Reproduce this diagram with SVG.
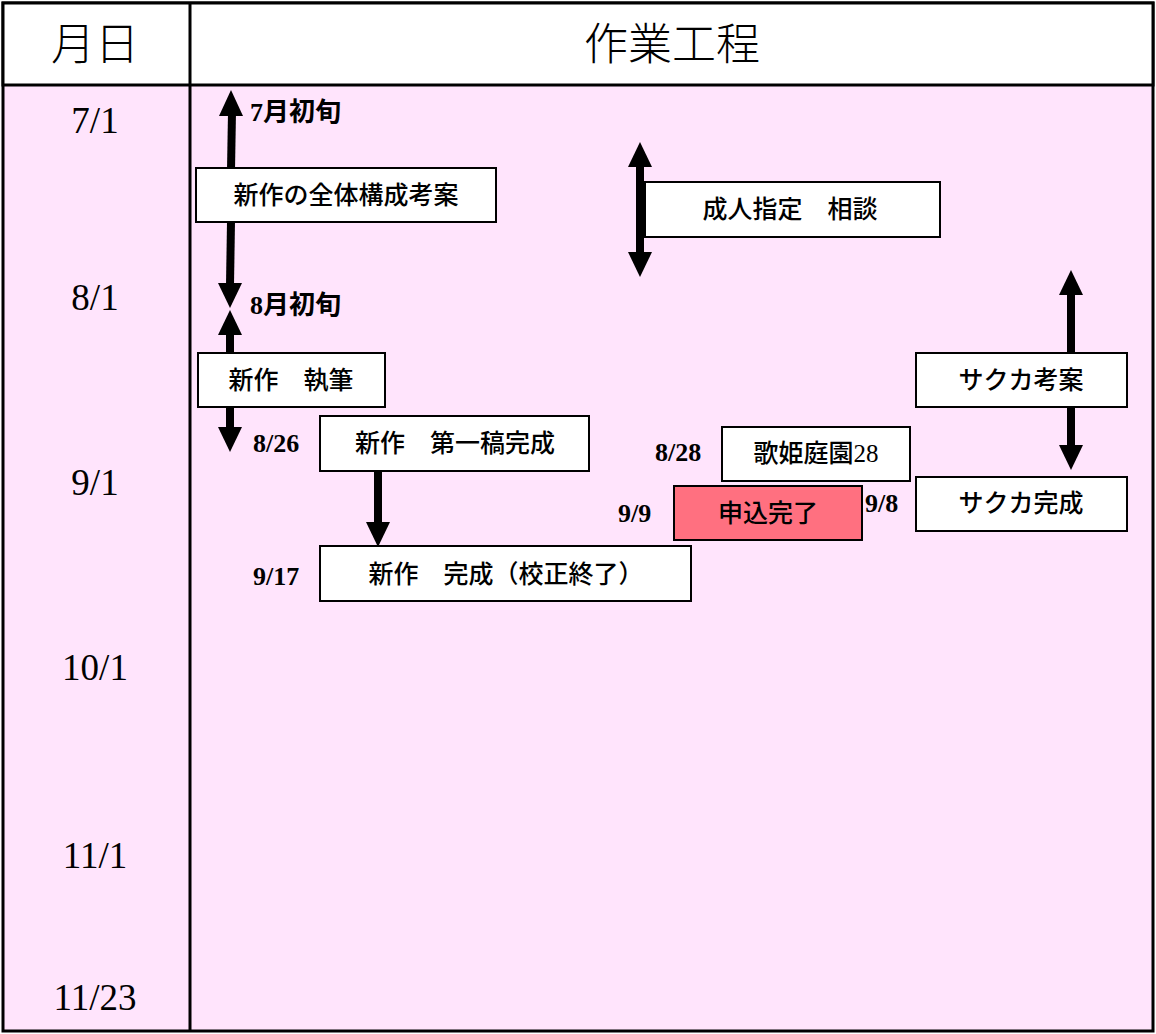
<svg xmlns="http://www.w3.org/2000/svg" width="1156" height="1034" viewBox="0 0 1156 1034">
<style>
.b{fill:#fff;stroke:#000;stroke-width:2}
.t{font-family:"Liberation Serif","Noto Sans CJK JP",serif;font-size:25px;font-weight:500;text-anchor:middle;dominant-baseline:central}
.l{font-family:"Liberation Serif","Noto Sans CJK JP",serif;font-size:26px;font-weight:bold;dominant-baseline:central}
.d{font-family:"Liberation Serif","Noto Sans CJK JP",serif;font-size:37px;text-anchor:middle;dominant-baseline:central}
.h{font-family:"Liberation Serif","Noto Sans CJK JP",serif;font-size:44px;font-weight:300;text-anchor:middle;dominant-baseline:central}
.a{stroke:#000;stroke-width:8;fill:none}
</style>
<rect x="3" y="3" width="1150" height="1028" fill="#FFE4FC" stroke="#000" stroke-width="3"/>
<rect x="3" y="3" width="1150" height="82" fill="#fff" stroke="#000" stroke-width="3"/>
<line x1="190" y1="3" x2="190" y2="1031" stroke="#000" stroke-width="3"/>
<text class="h" x="95" y="45">月日</text>
<text class="h" x="672" y="45">作業工程</text>
<g id="dates">
<text class="d" x="95" y="120">7/1</text>
<text class="d" x="95" y="297">8/1</text>
<text class="d" x="95" y="482">9/1</text>
<text class="d" x="95" y="667">10/1</text>
<text class="d" x="95" y="855">11/1</text>
<text class="d" x="95" y="997">11/23</text>
</g>
<g id="connectors">
<line class="a" x1="232" y1="112" x2="231" y2="170"/><polygon points="231,90 219,116 243,116"/>
<line class="a" x1="231" y1="222" x2="230" y2="285"/><polygon points="230,308 218,283 242,283"/>
<line class="a" x1="230" y1="332" x2="230" y2="353"/><polygon points="230,310 218,335 242,335"/>
<line class="a" x1="230" y1="407" x2="230" y2="430"/><polygon points="230,452 218,427 242,427"/>
<line class="a" x1="640" y1="165" x2="640" y2="255"/><polygon points="640,142 628,167 652,167"/><polygon points="640,277 628,252 652,252"/>
<line class="a" x1="378" y1="471" x2="378" y2="525"/><polygon points="378,547 366,522 390,522"/>
<line class="a" x1="1071" y1="292" x2="1071" y2="353"/><polygon points="1071,270 1059,295 1083,295"/>
<line class="a" x1="1071" y1="407" x2="1071" y2="448"/><polygon points="1071,470 1059,445 1083,445"/>
</g>
<g id="n1"><rect class="b" x="196" y="168" width="300" height="54"/><text class="t" x="346" y="195">新作の全体構成考案</text></g>
<text class="l" x="250" y="112">7月初旬</text>
<text class="l" x="250" y="305">8月初旬</text>
<g id="n2"><rect class="b" x="645" y="182" width="295" height="55"/><text class="t" x="790" y="209">成人指定　相談</text></g>
<g id="n3"><rect class="b" x="198" y="353" width="187" height="54"/><text class="t" x="291" y="380">新作　執筆</text></g>
<g id="n4"><rect class="b" x="320" y="416" width="269" height="55"/><text class="t" x="455" y="443">新作　第一稿完成</text></g>
<text class="l" x="253" y="443">8/26</text>
<g id="n5"><rect class="b" x="320" y="546" width="371" height="55"/><text class="t" x="506" y="574">新作　完成（校正終了）</text></g>
<text class="l" x="253" y="576">9/17</text>
<g id="n6"><rect class="b" x="722" y="427" width="188" height="54"/><text class="t" x="816" y="453">歌姫庭園28</text></g>
<text class="l" x="655" y="452">8/28</text>
<g id="n7"><rect x="674" y="486" width="188" height="54" fill="#FF7080" stroke="#000" stroke-width="2"/><text class="t" x="768" y="513">申込完了</text></g>
<text class="l" x="618" y="513">9/9</text>
<g id="n8"><rect class="b" x="916" y="353" width="211" height="54"/><text class="t" x="1021" y="380">サクカ考案</text></g>
<g id="n9"><rect class="b" x="916" y="477" width="211" height="54"/><text class="t" x="1021" y="503">サクカ完成</text></g>
<text class="l" x="865" y="503">9/8</text>
</svg>
